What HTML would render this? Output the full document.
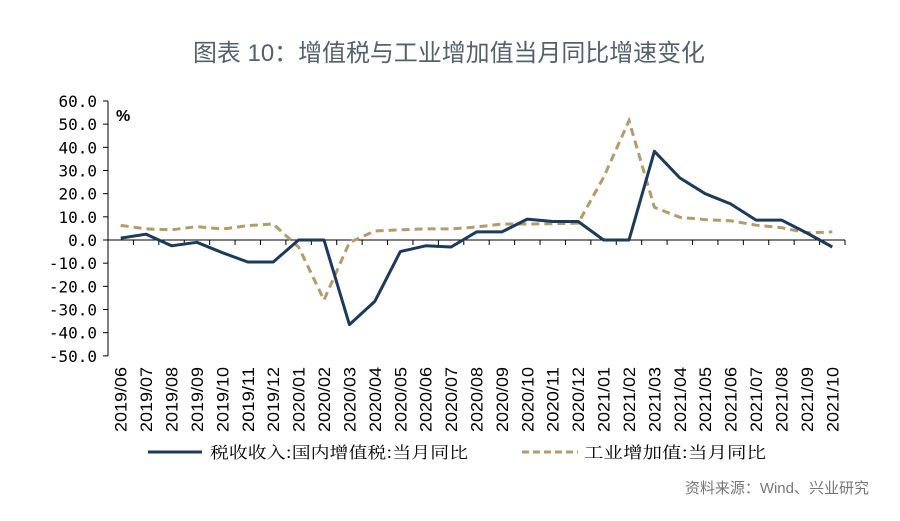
<!DOCTYPE html>
<html><head><meta charset="utf-8"><style>
body{margin:0;background:#fff;width:900px;height:521px;overflow:hidden}
svg{display:block}
</style></head><body>
<svg id="chart" width="900" height="521" xmlns="http://www.w3.org/2000/svg">
<text x="193" y="61" font-family="Liberation Sans, Noto Sans CJK SC, sans-serif" font-size="24" fill="#55606e" textLength="512" lengthAdjust="spacingAndGlyphs">图表 10：增值税与工业增加值当月同比增速变化</text>
<text x="116" y="121" font-family="Liberation Sans, sans-serif" font-size="16" font-weight="bold" fill="#000">%</text>
<g id="axes"></g>
<g id="series"></g>
<g>
<line x1="148" y1="452" x2="202" y2="452" stroke="#1b3a5c" stroke-width="3"/>
<text x="210" y="458" font-family="Noto Serif CJK SC, WenQuanYi Zen Hei, serif" font-size="16" fill="#000" textLength="258" lengthAdjust="spacingAndGlyphs">税收收入:国内增值税:当月同比</text>
<line x1="522" y1="452" x2="578" y2="452" stroke="#b59a6a" stroke-width="3" stroke-dasharray="7,4"/>
<text x="584" y="458" font-family="Noto Serif CJK SC, WenQuanYi Zen Hei, serif" font-size="16" fill="#000" textLength="182" lengthAdjust="spacingAndGlyphs">工业增加值:当月同比</text>
</g>
<text x="869" y="493" text-anchor="end" font-family="Liberation Sans, Noto Sans CJK SC, sans-serif" font-size="15" fill="#777">资料来源：Wind、兴业研究</text>
</svg>
<script>
const categories=["2019/06","2019/07","2019/08","2019/09","2019/10","2019/11","2019/12","2020/01","2020/02","2020/03","2020/04","2020/05","2020/06","2020/07","2020/08","2020/09","2020/10","2020/11","2020/12","2021/01","2021/02","2021/03","2021/04","2021/05","2021/06","2021/07","2021/08","2021/09","2021/10"];
const vatValues=[0.8,2.5,-2.5,-1,-5.5,-9.5,-9.5,0,0,-36.5,-26.5,-5,-2.5,-3,3.5,3.5,9,8,8,0,0,38.3,26.8,20,15.6,8.6,8.6,3,-3];
const industryValues=[6.3,4.8,4.4,5.8,4.7,6.2,6.9,-3,-25.9,-1.1,3.9,4.4,4.8,4.8,5.6,6.9,6.9,7,7.3,27,51.5,14.1,9.8,8.8,8.3,6.4,5.3,3.1,3.5];
const yTicks=[60,50,40,30,20,10,0,-10,-20,-30,-40,-50];
const NS="http://www.w3.org/2000/svg";
const X0=108,X1=845,Y0=240,PU=2.317;
const band=(X1-X0)/categories.length;
function xPos(i){return X0+band*(i+0.5);}
function yPos(v){return Y0-v*PU;}
function mk(tag,attrs,parent){const e=document.createElementNS(NS,tag);for(const k in attrs)e.setAttribute(k,attrs[k]);parent.appendChild(e);return e;}
const axes=document.getElementById('axes');
const yAxis=mk('line',{x1:X0,y1:yPos(60),x2:X0,y2:yPos(-50),stroke:'#000','stroke-width':1},axes);


yTicks.forEach(t=>{
  const tk=mk('line',{x1:X0-5,y1:yPos(t),x2:X0,y2:yPos(t),stroke:'#000'},axes);
  
  
  const lb=mk('text',{x:X0-11,y:yPos(t)+6,'text-anchor':'end','font-family':'DejaVu Sans Mono, Liberation Mono, monospace','font-size':16,fill:'#000'},axes);
  lb.textContent=t.toFixed(1);
  
  
});
const xAxis=mk('line',{x1:X0,y1:Y0,x2:X1,y2:Y0,stroke:'#000','stroke-width':1},axes);


categories.forEach((c,i)=>{
  const tk=mk('line',{x1:X0+band*(i+1),y1:Y0,x2:X0+band*(i+1),y2:Y0+5,stroke:'#000'},axes);
  
  
  const x=xPos(i)+6,y=367;
  const lb=mk('text',{x:x,y:y,'text-anchor':'end','font-family':'Liberation Sans, sans-serif','font-size':17,fill:'#000',textLength:65,lengthAdjust:'spacingAndGlyphs',transform:`rotate(-90 ${x} ${y})`},axes);
  lb.textContent=c;
  
  
});
const sg=document.getElementById('series');
function pts(vals){return vals.map((v,i)=>xPos(i).toFixed(1)+','+yPos(v).toFixed(1)).join(' ');}
const l2=mk('polyline',{points:pts(industryValues),fill:'none',stroke:'#b59a6a','stroke-width':3,'stroke-dasharray':'8,5'},sg);


const l1=mk('polyline',{points:pts(vatValues),fill:'none',stroke:'#1b3a5c','stroke-width':3,'stroke-linejoin':'round'},sg);


</script>
</body></html>
